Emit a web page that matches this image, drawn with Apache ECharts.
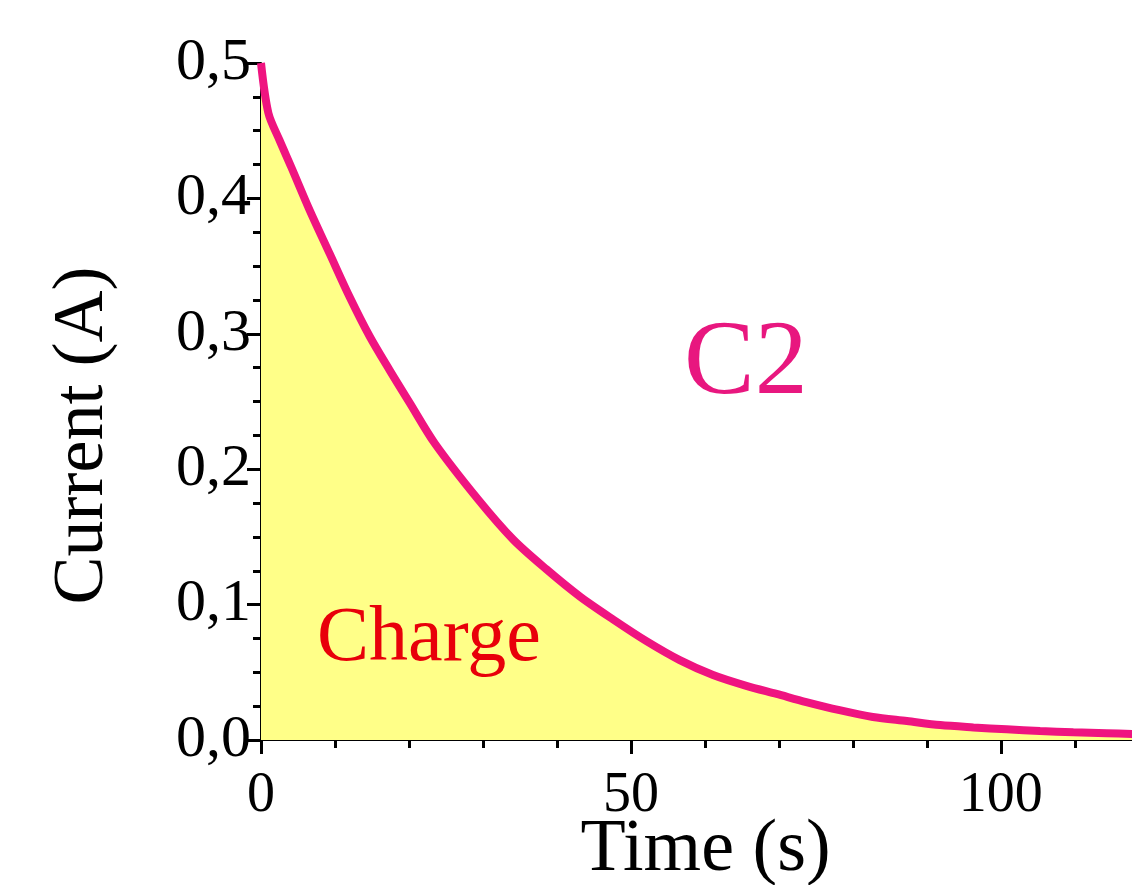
<!DOCTYPE html>
<html>
<head>
<meta charset="utf-8">
<script src="https://cdn.jsdelivr.net/npm/echarts@6/dist/echarts.min.js"></script>
<style>
  html, body { margin: 0; padding: 0; background: #fff; }
  #chart { width: 1132px; height: 885px; }
</style>
</head>
<body>
<div id="chart"></div>
<script>
// time (s) and current (A)
const timeValues = [0, 1.0, 2.5, 4.1, 6.6, 9.3, 12.0, 14.7, 17.4, 20.1, 23.5, 29.3, 34.1, 38.6, 43.1, 47.6,
  52.1, 56.6, 61.1, 65.6, 69.7, 73.7, 78.2, 82.7, 87.3, 91.8, 96.3, 100.8, 105.3, 109.8, 114.3, 118];
const currentValues = [0.5, 0.463, 0.443, 0.423, 0.391, 0.359, 0.327, 0.298, 0.273, 0.249, 0.219, 0.178, 0.148, 0.126, 0.106, 0.089,
  0.073, 0.059, 0.048, 0.040, 0.034, 0.028, 0.022, 0.017, 0.014, 0.011, 0.0093, 0.0079, 0.0066, 0.0057, 0.0050, 0.0044];
const xLabelTicks = [0, 50, 100];
const curveLabel = 'C2';
const areaLabel = 'Charge';

const serif = '"Liberation Serif", "DejaVu Serif", serif';
const points = timeValues.map((t, i) => [t, currentValues[i]]);

const chart = echarts.init(document.getElementById('chart'));

chart.setOption({
  animation: false,
  grid: { left: 261, top: 63, right: -2, bottom: 145, containLabel: false, outerBoundsMode: 'none' },
  xAxis: [
    {
      type: 'value',
      min: 0,
      max: 118,
      interval: 10,
      name: 'Time (s)',
      nameLocation: 'middle',
      nameGap: 74,
      nameMoveOverlap: false,
      nameTextStyle: { fontFamily: serif, fontSize: 74, color: '#000', padding: [0, 0, 0, 16] },
      axisLine: { lineStyle: { color: '#000', width: 2 } },
      axisTick: { length: 8, lineStyle: { color: '#000', width: 3 } },
      axisLabel: {
        showMaxLabel: false,
        margin: 28,
        fontFamily: serif,
        fontSize: 56,
        color: '#000',
        formatter: v => (xLabelTicks.includes(v) ? String(v) : '')
      },
      splitLine: { show: false }
    },
    {
      // longer ticks at the labelled positions
      type: 'value',
      position: 'bottom',
      min: 0,
      max: 118,
      interval: 50,
      axisLine: { show: false },
      axisTick: { length: 14, lineStyle: { color: '#000', width: 3 } },
      axisLabel: { show: false },
      splitLine: { show: false }
    }
  ],
  yAxis: {
    type: 'value',
    min: 0,
    max: 0.5,
    interval: 0.1,
    name: 'Current (A)',
    nameLocation: 'middle',
    nameGap: 142,
    nameMoveOverlap: false,
    nameTextStyle: { fontFamily: serif, fontSize: 72, color: '#000', padding: [0, 68, 0, 0] },
    axisLine: { show: true, lineStyle: { color: '#000', width: 2 } },
    axisTick: { show: true, length: 14, lineStyle: { color: '#000', width: 3 } },
    minorTick: { show: true, splitNumber: 4, length: 8, lineStyle: { color: '#000', width: 3 } },
    axisLabel: {
      margin: 10,
      fontFamily: serif,
      fontSize: 60,
      color: '#000',
      formatter: v => v.toFixed(1).replace('.', ',')
    },
    splitLine: { show: false }
  },
  series: [
    {
      type: 'line',
      data: points,
      showSymbol: false,
      smooth: 0.3,
      lineStyle: { color: '#ef1480', width: 8 },
      areaStyle: { color: '#ffff88', opacity: 1 },
      z: 1
    }
  ],
  graphic: [
    {
      type: 'text',
      left: 684,
      top: 312,
      z: 10,
      style: { text: curveLabel, font: '106px ' + serif, fill: '#e8177f' }
    },
    {
      type: 'text',
      left: 317,
      top: 601,
      z: 10,
      style: { text: areaLabel, font: '78px ' + serif, fill: '#e8000a' }
    }
  ]
});
</script>
</body>
</html>
